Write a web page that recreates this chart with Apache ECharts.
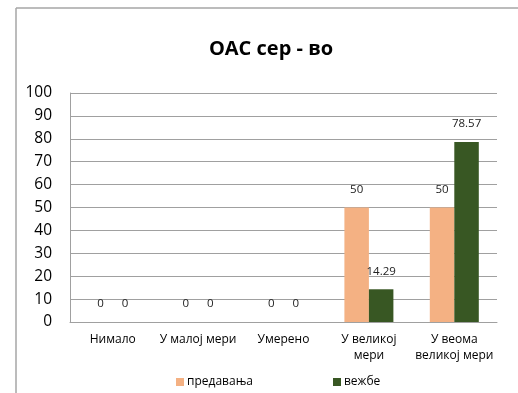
<!DOCTYPE html>
<html>
<head>
<meta charset="utf-8">
<script src="https://cdn.jsdelivr.net/npm/echarts@6/dist/echarts.min.js"></script>
<style>
html,body{margin:0;padding:0;background:#fff;}
#c{width:518px;height:393px;}
</style>
</head>
<body>
<div id="c"></div>
<script>
const categories = ['Нимало', 'У малој мери', 'Умерено', 'У великој\nмери', 'У веома\nвеликој мери'];
const seriesNames = ['предавања', 'вежбе'];
const lectures = [0, 0, 0, 50, 50];
const exercises = [0, 0, 0, 14.29, 78.57];
const yTicks = {min: 0, max: 100, interval: 10};

const font = '"Open Sans", "Liberation Sans", sans-serif';
const chart = echarts.init(document.getElementById('c'), null, {renderer: 'canvas'});
const labelCfg = {show: true, position: 'top', distance: 12, color: '#222', fontSize: 11.5, fontFamily: font};
chart.setOption({
  animation: false,
  title: {
    text: 'ОАС сер - во', left: 266, top: 34, textAlign: 'center',
    textStyle: {fontSize: 20, fontWeight: 'bold', color: '#000', fontFamily: font}
  },
  graphic: [
    {type: 'line', shape: {x1: 16, y1: 8, x2: 518, y2: 8}, style: {stroke: '#a6a6a6', lineWidth: 1.5}},
    {type: 'line', shape: {x1: 16, y1: 8, x2: 16, y2: 393}, style: {stroke: '#a6a6a6', lineWidth: 1.5}}
  ],
  legend: {
    left: 171, top: 371, itemGap: 80, itemWidth: 8, itemHeight: 8, icon: 'rect',
    textStyle: {fontSize: 12, color: '#000', fontFamily: font, padding: [0, 0, 0, -2]},
    data: seriesNames
  },
  grid: {left: 70, right: 21, top: 93, bottom: 71},
  xAxis: {
    type: 'category', data: categories,
    axisLine: {lineStyle: {color: '#a0a0a0', width: 1}},
    axisTick: {show: false},
    axisLabel: {color: '#000', fontSize: 12, fontFamily: font, margin: 10, lineHeight: 16, interval: 0}
  },
  yAxis: {
    type: 'value', min: yTicks.min, max: yTicks.max, interval: yTicks.interval,
    axisLine: {show: true, lineStyle: {color: '#a0a0a0', width: 1}},
    axisTick: {show: false},
    splitLine: {lineStyle: {color: '#a0a0a0', width: 1}},
    axisLabel: {color: '#000', fontSize: 15.5, fontFamily: font, margin: 18}
  },
  series: [
    {name: seriesNames[0], type: 'bar', data: lectures, barWidth: 24.5, barGap: '0%',
     itemStyle: {color: '#F4B183'}, label: labelCfg},
    {name: seriesNames[1], type: 'bar', data: exercises, barWidth: 24.5, barGap: '0%',
     itemStyle: {color: '#385723'}, label: labelCfg}
  ]
});
</script>
</body>
</html>
